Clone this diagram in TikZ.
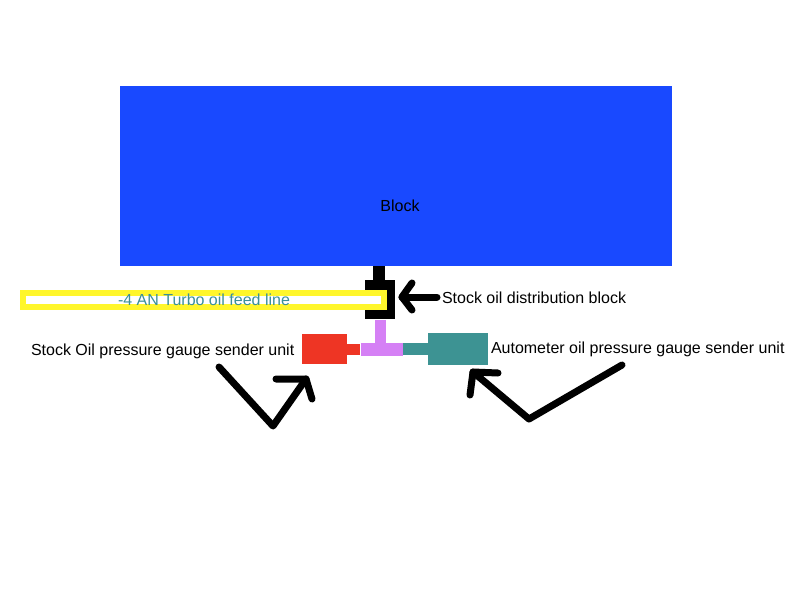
\documentclass[tikz,border=0pt]{standalone}
\usepackage{fontspec}
\setmainfont{Liberation Sans}
\definecolor{blockblue}{HTML}{1949FF}
\definecolor{feedyellow}{HTML}{FFF62B}
\definecolor{stockred}{HTML}{EE3524}
\definecolor{teepurple}{HTML}{D580F5}
\definecolor{senderteal}{HTML}{3D9393}
\definecolor{feedtext}{HTML}{3A8F9A}
\tikzset{
  part/.style={rectangle,draw=none,inner sep=0pt,outer sep=0pt},
  label/.style={inner sep=0pt,outer sep=0pt,font=\fontsize{16}{18}\selectfont,text=black},
  pointer/.style={draw=black,line width=7pt,line cap=round,line join=round},
}
\begin{document}
\begin{tikzpicture}[x=1pt,y=-1pt]
\useasboundingbox (0,0) rectangle (800,600);
\fill[white] (0,0) rectangle (800,600);
% parts
\node[part,fill=blockblue,minimum width=552pt,minimum height=180pt] (block) at (396,176) {};
\node[part,fill=black,minimum width=12pt,minimum height=15pt] (stem) at (379,273) {};
\node[part,fill=black,minimum width=30pt,minimum height=39pt] (dist) at (380,299.5) {};
\node[part,draw=feedyellow,line width=6pt,fill=white,minimum width=361pt,minimum height=14pt] (feed) at (203.5,300) {};
\node[part,fill=teepurple,minimum width=11pt,minimum height=24pt] (teestem) at (380.5,332) {};
\node[part,fill=teepurple,minimum width=42pt,minimum height=13pt] (teebar) at (382,349.5) {};
\node[part,fill=stockred,minimum width=45pt,minimum height=30pt] (red) at (324.5,349) {};
\node[part,fill=stockred,minimum width=13pt,minimum height=11pt] (redstem) at (353.5,349.5) {};
\node[part,fill=senderteal,minimum width=25pt,minimum height=12pt] (tealstem) at (415.5,349) {};
\node[part,fill=senderteal,minimum width=60pt,minimum height=32pt] (teal) at (458,349) {};
% labels
\node[label,anchor=base] (blocklabel) at (400,211) {Block};
\node[label,text=feedtext,anchor=base west] (feedlabel) at (118,305.5) {-4 AN Turbo oil feed line};
\node[label,anchor=base west] (distlabel) at (442,303.5) {Stock oil distribution block};
\node[label,anchor=base west] (stocklabel) at (31,355) {Stock Oil pressure gauge sender unit};
\node[label,anchor=base west] (autolabel) at (491,353.5) {Autometer oil pressure gauge sender unit};
% hand-drawn pointers
\coordinate (d0) at (437,297);
\coordinate (d1) at (402,297);
\coordinate (d2) at (412,283);
\coordinate (d3) at (412,310);
\draw[pointer] (d0) -- (d1);
\draw[pointer] (d2) -- (d1) -- (d3);
\coordinate (s0) at (219,367);
\coordinate (s1) at (273,426);
\coordinate (s2) at (306,379);
\coordinate (s3) at (276,379);
\coordinate (s4) at (312,399);
\draw[pointer] (s0) -- (s1) -- (s2);
\draw[pointer] (s3) -- (s2) -- (s4);
\coordinate (a0) at (622,365);
\coordinate (a1) at (529,419);
\coordinate (a2) at (473,372);
\coordinate (a3) at (498,373);
\coordinate (a4) at (470,395);
\draw[pointer] (a0) -- (a1) -- (a2);
\draw[pointer] (a3) -- (a2) -- (a4);
\end{tikzpicture}
\end{document}
